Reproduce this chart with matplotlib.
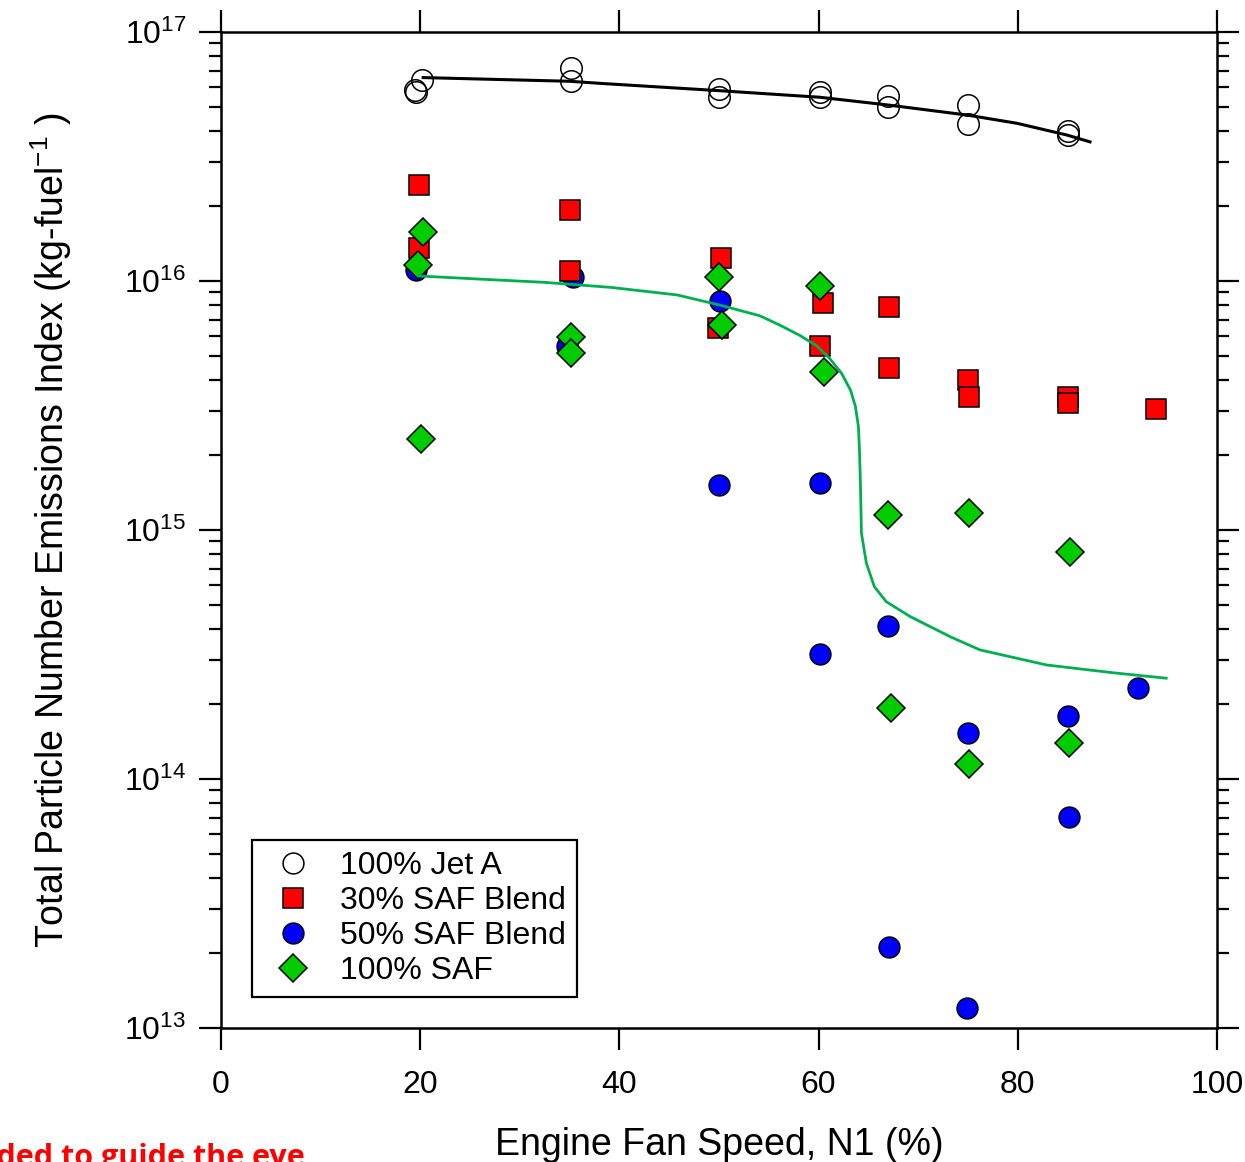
import matplotlib.pyplot as plt
from matplotlib.lines import Line2D

plt.rcParams['font.family'] = ['Liberation Sans', 'DejaVu Sans']
plt.rcParams['mathtext.fontset'] = 'custom'
plt.rcParams['mathtext.rm'] = 'Liberation Sans'
plt.rcParams['mathtext.it'] = 'Liberation Sans:italic'
plt.rcParams['mathtext.default'] = 'regular'

# 100% Jet A
jet_x = [19.5, 19.6, 20.15, 35.1, 35.1, 50.0, 50.0, 60.1, 60.1, 67.0, 67.0, 75.0, 75.0, 85.0, 85.0]
jet_y = [5.85e16, 5.73e16, 6.41e16, 7.15e16, 6.37e16, 5.93e16, 5.49e16, 5.76e16, 5.49e16,
         5.55e16, 4.99e16, 5.09e16, 4.26e16, 4.0e16, 3.86e16]

# 30% SAF blend
saf30_x = [19.9, 19.9, 35.0, 35.0, 50.2, 49.9, 60.4, 60.1, 67.1, 67.1, 75.0, 75.1, 85.0, 85.0, 93.9]
saf30_y = [2.43e16, 1.36e16, 1.92e16, 1.10e16, 1.24e16, 6.5e15, 8.18e15, 5.48e15, 7.88e15,
           4.49e15, 4.0e15, 3.43e15, 3.41e15, 3.25e15, 3.05e15]

# 50% SAF blend
saf50_x = [19.6, 35.3, 34.7, 50.1, 50.0, 60.1, 60.1, 67.0, 67.1, 75.0, 74.9, 85.0, 85.1, 92.1]
saf50_y = [1.11e16, 1.04e16, 5.48e15, 8.34e15, 1.51e15, 1.54e15, 3.19e14, 4.11e14, 2.11e13,
           1.53e14, 1.20e13, 1.79e14, 7.06e13, 2.31e14]

# 100% SAF
saf100_x = [20.25, 19.8, 20.05, 35.1, 35.1, 50.0, 50.3, 60.1, 60.5, 67.0, 67.3, 75.1, 75.1, 85.2, 85.1]
saf100_y = [1.57e16, 1.16e16, 2.31e15, 5.94e15, 5.13e15, 1.04e16, 6.65e15, 9.55e15, 4.33e15,
            1.15e15, 1.92e14, 1.17e15, 1.15e14, 8.18e14, 1.39e14]

# lines to guide the eye
jet_fit_x = [20.3, 35.0, 38.05, 50.1, 60.1, 67.0, 74.9, 79.9, 84.9, 87.25]
jet_fit_y = [6.56e16, 6.34e16, 6.22e16, 5.81e16, 5.47e16, 5.09e16, 4.64e16, 4.30e16, 3.86e16, 3.62e16]

saf_fit_x = [19.98, 25.7, 32.4, 39.1, 45.8, 50.1, 54.1, 56.1, 58.1, 59.8, 61.1, 62.3, 63.2, 63.7,
             64.0, 64.1, 64.2, 64.3, 64.8, 65.6, 66.8, 69.2, 73.2, 76.2, 82.9, 89.6, 94.9]
saf_fit_y = [1.047e16, 1.019e16, 9.88e15, 9.43e15, 8.79e15, 8.0e15, 7.25e15, 6.65e15, 6.05e15,
             5.5e15, 4.89e15, 4.26e15, 3.65e15, 3.13e15, 2.60e15, 2.10e15, 1.54e15, 9.70e14,
             7.35e14, 5.92e14, 5.15e14, 4.49e14, 3.73e14, 3.30e14, 2.87e14, 2.67e14, 2.54e14]

labels = ['100% Jet A', '30% SAF Blend', '50% SAF Blend', '100% SAF']

fig = plt.figure(figsize=(12.45, 11.62), dpi=100)
ax = fig.add_axes([221/1245, 134/1162, 996/1245, 996/1162])

mew = 1.1
ax.plot(saf50_x, saf50_y, 'o', ms=15, mfc='#0000FF', mec='black', mew=mew, ls='none', zorder=3)
ax.plot(saf30_x, saf30_y, 's', ms=15, mfc='#FF0000', mec='black', mew=mew, ls='none', zorder=4)
ax.plot(saf100_x, saf100_y, 'D', ms=14.5, mfc='#00CC00', mec='black', mew=mew, ls='none', zorder=5)
ax.plot(jet_x, jet_y, 'o', ms=15.5, mfc='none', mec='black', mew=mew, ls='none', zorder=6)

ax.plot(jet_fit_x, jet_fit_y, color='black', lw=2.2, zorder=7, solid_joinstyle='round')
ax.plot(saf_fit_x, saf_fit_y, color='#00B050', lw=2.0, zorder=7, solid_joinstyle='round')

ax.set_yscale('log')
ax.set_xlim(0, 100)
ax.set_ylim(1e13, 1e17)
ax.set_xticks([0, 20, 40, 60, 80, 100])

for s in ax.spines.values():
    s.set_linewidth(1.8)
ax.tick_params(which='both', direction='out', top=True, right=True, width=1.6, labelsize=23)
ax.tick_params(which='major', length=16)
ax.tick_params(which='minor', length=8.5)
ax.tick_params(axis='x', pad=14)
ax.tick_params(axis='y', pad=9)

ax.set_xlabel('Engine Fan Speed, N1 (%)', fontsize=27, labelpad=20)
ax.set_ylabel('Total Particle Number Emissions Index (kg-fuel$^{-1}$ )', fontsize=27, labelpad=36)

handles = [
    Line2D([], [], marker='o', ls='none', ms=15, mfc='white', mec='black', mew=mew),
    Line2D([], [], marker='s', ls='none', ms=15, mfc='#FF0000', mec='black', mew=mew),
    Line2D([], [], marker='o', ls='none', ms=15, mfc='#0000FF', mec='black', mew=mew),
    Line2D([], [], marker='D', ms=14.5, ls='none', mfc='#00CC00', mec='black', mew=mew),
]
leg = ax.legend(handles, labels, loc='lower left', bbox_to_anchor=(0.031, 0.031), borderaxespad=0,
                fontsize=23, frameon=True, fancybox=False, edgecolor='black', framealpha=1,
                handlelength=1.86, handletextpad=0.54, labelspacing=0.156, borderpad=0.35)
leg.get_frame().set_linewidth(1.6)

fig.text(305/1245, -4/1162, 'Lines added to guide the eye', color='#FF0000', fontsize=22,
         fontweight='bold', family=['Open Sans', 'DejaVu Sans'], ha='right', va='baseline')

fig.savefig('out.png', dpi=100)
